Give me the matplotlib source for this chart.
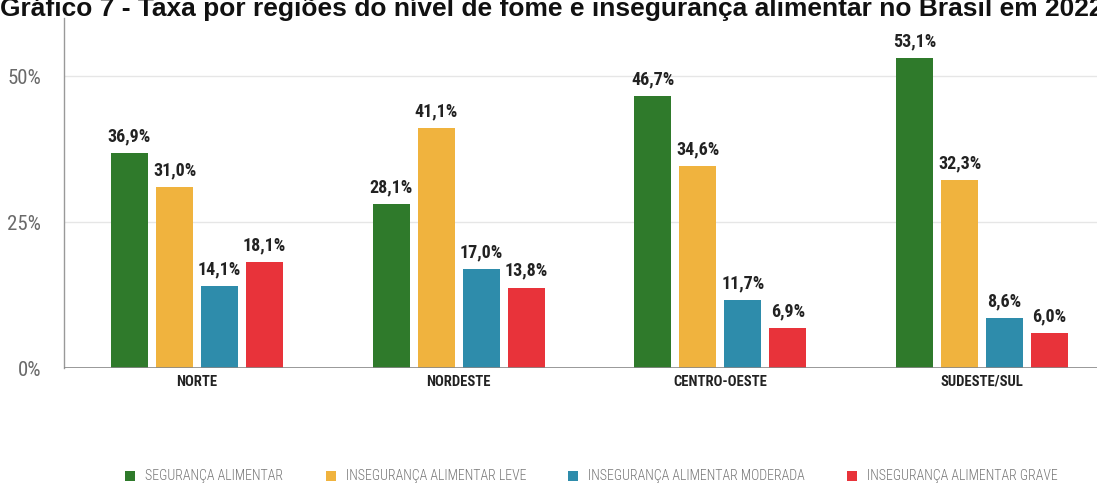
import numpy as np
import matplotlib
matplotlib.use("Agg")
import matplotlib.pyplot as plt
from matplotlib import font_manager
from matplotlib.patches import Rectangle

# Dados por região (%)
regioes = ["NORTE", "NORDESTE", "CENTRO-OESTE", "SUDESTE/SUL"]
series = ["SEGURANÇA ALIMENTAR", "INSEGURANÇA ALIMENTAR LEVE",
          "INSEGURANÇA ALIMENTAR MODERADA", "INSEGURANÇA ALIMENTAR GRAVE"]
seguranca = [36.9, 28.1, 46.7, 53.1]
inseg_leve = [31.0, 41.1, 34.6, 32.3]
inseg_moderada = [14.1, 17.0, 11.7, 8.6]
inseg_grave = [18.1, 13.8, 6.9, 6.0]
cores = ["#2f7a2b", "#f0b33e", "#2e8cab", "#e8333a"]
yticks = [0, 25, 50]

titulo = "Gráfico 7 - Taxa por regiões do nível de fome e insegurança alimentar no Brasil em 2022"

# fonte estreita, se houver
nomes = {f.name for f in font_manager.fontManager.ttflist}
narrow = None
for nome in ["Roboto Condensed", "Liberation Sans Narrow", "DejaVu Sans Condensed"]:
    if nome in nomes:
        narrow = nome
        break
fam = [narrow, "DejaVu Sans"] if narrow else ["DejaVu Sans"]
plt.rcParams["font.family"] = fam
plt.rcParams["ytick.major.pad"] = 16.5
plt.rcParams["ytick.major.size"] = 0
plt.rcParams["xtick.major.size"] = 0
plt.rcParams["xtick.major.pad"] = 5

W, H = 1097, 494
fig = plt.figure(figsize=(W / 100, H / 100), dpi=100)
ax = fig.add_axes([64 / W, 126 / H, 1033 / W, 350 / H])

x = np.arange(len(regioes))
passo = 45 / 261.7
larg = 37 / 261.7
valores = [seguranca, inseg_leve, inseg_moderada, inseg_grave]
for i, (vals, cor) in enumerate(zip(valores, cores)):
    pos = x + (i - 1.5) * passo
    ax.bar(pos, vals, width=larg, color=cor, zorder=3)
    for px, v in zip(pos, vals):
        ax.text(px, v + 1.3, f"{v:.1f}%".replace(".", ","), ha="center", va="bottom",
                fontsize=13, fontweight="bold", color="#222222")

ax.set_xlim(-133 / 261.7, 900 / 261.7)
ax.set_ylim(0, 60)

ax.set_yticks(yticks)
ax.set_yticklabels([f"{t}%" for t in yticks], color="#6a6a6a", fontsize=15)
ax.set_xticks(x)
ax.set_xticklabels(regioes, fontsize=10.5, fontweight="bold", color="#222222")

for t in yticks[1:]:
    ax.axhline(t, color="#e6e6e6", lw=1, zorder=1)
ax.axhline(0, color="#888888", lw=1.2, zorder=4)

for s in ["top", "right", "bottom"]:
    ax.spines[s].set_visible(False)
ax.spines["left"].set_color("#999999")
ax.spines["left"].set_linewidth(1)

# legenda: quadrado colorido + texto
leg_x = [125, 326, 568, 847]
for px, cor, nome in zip(leg_x, cores, series):
    fig.patches.append(Rectangle((px / W, 1 - 481 / H), 10 / W, 10 / H,
                                 transform=fig.transFigure, facecolor=cor,
                                 edgecolor="none"))
    fig.text((px + 20) / W, 1 - 476 / H, nome, ha="left", va="center",
             fontsize=10, color="#777777", fontweight="light")

fig.text(0.0, 1 - 16 / H, titulo, ha="left", va="baseline", fontsize=19,
         fontweight="bold", family=["Liberation Sans", "DejaVu Sans"], color="#111111")

fig.savefig("out.png", dpi=100)
